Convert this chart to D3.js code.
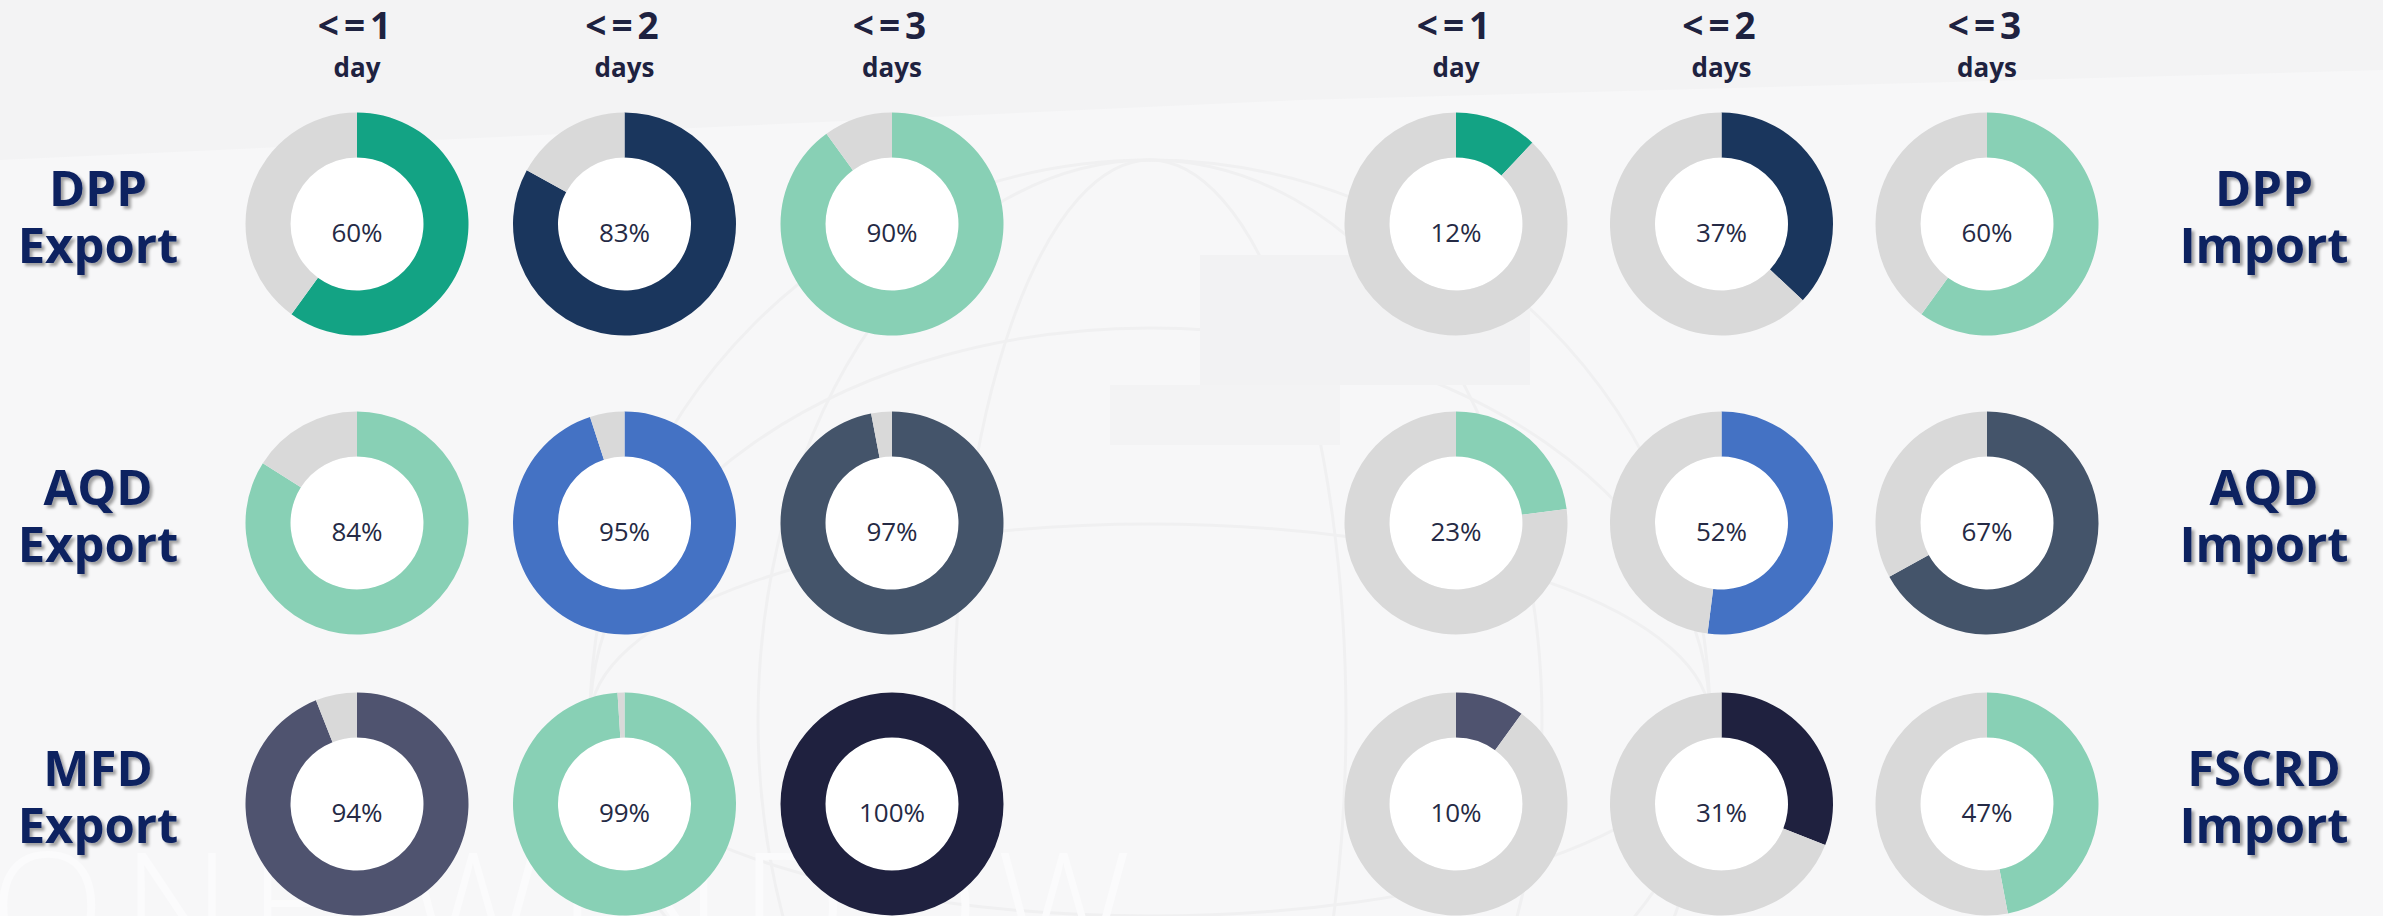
<!DOCTYPE html>
<html>
<head>
<meta http-equiv="Content-Type" content="text/html; charset=UTF-8">
<style>
  html, body { margin: 0; padding: 0; background: #f4f4f5; }
  svg { display: block; }
</style>
</head>
<body>
<svg width="2383" height="916"></svg>
<script src="https://cdn.jsdelivr.net/npm/d3@7"></script>
<script>

// column headers (shared by both halves)
var columnHeads = ["<=1", "<=2", "<=3"];
var columnUnits = ["day", "days", "days"];

// left half: export
var exportRows = [["DPP", "Export"], ["AQD", "Export"], ["MFD", "Export"]];
var exportValues = [
    [60, 83, 90],
    [84, 95, 97],
    [94, 99, 100]
];

// right half: import
var importRows = [["DPP", "Import"], ["AQD", "Import"], ["FSCRD", "Import"]];
var importValues = [
    [12, 37, 60],
    [23, 52, 67],
    [10, 31, 47]
];

// palette per cell
var exportColors = [
    ["#13a384", "#1a365d", "#88d0b5"],
    ["#88d0b5", "#4472c4", "#44546a"],
    ["#4f536f", "#88d0b5", "#1f213f"]
];
var importColors = [
    ["#13a384", "#1a365d", "#88d0b5"],
    ["#88d0b5", "#4472c4", "#44546a"],
    ["#4f536f", "#1f213f", "#88d0b5"]
];
var restColor = "#d9d9d9";

var svg = d3.select("svg"),
    width = +svg.attr("width"),
    height = +svg.attr("height");

var rowKeys = [0, 1, 2];

var xLeft = d3.scalePoint().domain(columnHeads).range([357, 892]),
    xRight = d3.scalePoint().domain(columnHeads).range([1456, 1987]),
    y = d3.scaleOrdinal().domain(rowKeys).range([224, 523, 804]);

var pie = d3.pie().sort(null).value(function(d) { return d; });
var arc = d3.arc().innerRadius(66.5).outerRadius(111.5);

var defs = svg.append("defs");
var shadow = defs.append("filter").attr("id", "shadow")
    .attr("x", "-10%").attr("y", "-10%").attr("width", "130%").attr("height", "140%");
shadow.append("feDropShadow")
    .attr("dx", 3).attr("dy", 3).attr("stdDeviation", 1.6)
    .attr("flood-color", "#000").attr("flood-opacity", 0.35);

// faint background picture
var bg = svg.append("g").attr("class", "bg");
bg.append("rect").attr("width", width).attr("height", height).attr("fill", "#f3f3f4");
bg.append("path")
    .attr("d", "M0,160 L1300,100 L2383,70 L2383,916 L0,916 Z")
    .attr("fill", "#f7f7f8");
var globe = bg.append("g").attr("transform", "translate(1150,720)")
    .attr("fill", "none").attr("stroke", "#f0f0f1").attr("stroke-width", 3);
globe.append("circle").attr("r", 560);
[0.35, 0.7].forEach(function(k) {
  globe.append("ellipse").attr("rx", 560 * k).attr("ry", 560);
  globe.append("ellipse").attr("rx", 560).attr("ry", 560 * k);
});
bg.append("rect").attr("x", 1200).attr("y", 255).attr("width", 330).attr("height", 130).attr("fill", "#f2f2f3");
bg.append("rect").attr("x", 1110).attr("y", 385).attr("width", 230).attr("height", 60).attr("fill", "#f3f3f4");
bg.append("text")
    .attr("x", -10).attr("y", 960)
    .style("font", "300 150px 'Open Sans', sans-serif")
    .style("letter-spacing", "18px")
    .attr("fill", "#fbfbfc")
    .text("ONE WINDOW");

function drawHalf(x, rows, values, colors, labelX) {
  var half = svg.append("g");

  // column headers
  var head = half.selectAll(".head")
    .data(columnHeads)
    .enter().append("g")
      .attr("class", "head")
      .attr("transform", function(d) { return "translate(" + x(d) + ",0)"; })
      .attr("fill", "#1e2240")
      .style("text-anchor", "middle");

  head.append("text")
      .attr("y", 39)
      .style("font", "700 37px 'Open Sans', sans-serif")
      .style("letter-spacing", "5px")
      .text(function(d) { return d; });

  head.append("text")
      .attr("y", 77)
      .style("font", "700 26px 'Open Sans', sans-serif")
      .text(function(d, i) { return columnUnits[i]; });

  // row labels
  var label = half.selectAll(".rowlabel")
    .data(rows)
    .enter().append("text")
      .attr("class", "rowlabel")
      .attr("x", labelX)
      .attr("y", function(d, i) { return y(i); })
      .attr("fill", "#0d2160")
      .attr("filter", "url(#shadow)")
      .style("font", "700 49px 'Open Sans', sans-serif")
      .style("text-anchor", "middle");

  label.append("tspan").attr("x", labelX).attr("dy", -18).text(function(d) { return d[0]; });
  label.append("tspan").attr("x", labelX).attr("dy", 57).text(function(d) { return d[1]; });

  // donuts
  var cells = [];
  values.forEach(function(row, r) {
    row.forEach(function(v, c) {
      cells.push({ row: r, col: columnHeads[c], value: v, color: colors[r][c] });
    });
  });

  var donut = half.selectAll(".donut")
    .data(cells)
    .enter().append("g")
      .attr("class", "donut")
      .attr("transform", function(d) { return "translate(" + x(d.col) + "," + y(d.row) + ")"; });

  donut.append("circle").attr("r", 66.5).attr("fill", "#ffffff");

  donut.selectAll("path")
    .data(function(d) {
      return pie([d.value, 100 - d.value]).map(function(s, i) {
        s.color = i === 0 ? d.color : restColor;
        return s;
      });
    })
    .enter().append("path")
      .attr("d", arc)
      .attr("fill", function(d) { return d.color; });

  donut.append("text")
      .attr("y", 9)
      .attr("dy", ".35em")
      .attr("fill", "#252a45")
      .style("font", "400 26px 'Open Sans', sans-serif")
      .style("text-anchor", "middle")
      .text(function(d) { return d.value + "%"; });
}

drawHalf(xLeft, exportRows, exportValues, exportColors, 98);
drawHalf(xRight, importRows, importValues, importColors, 2264);

</script>
</body></html>
